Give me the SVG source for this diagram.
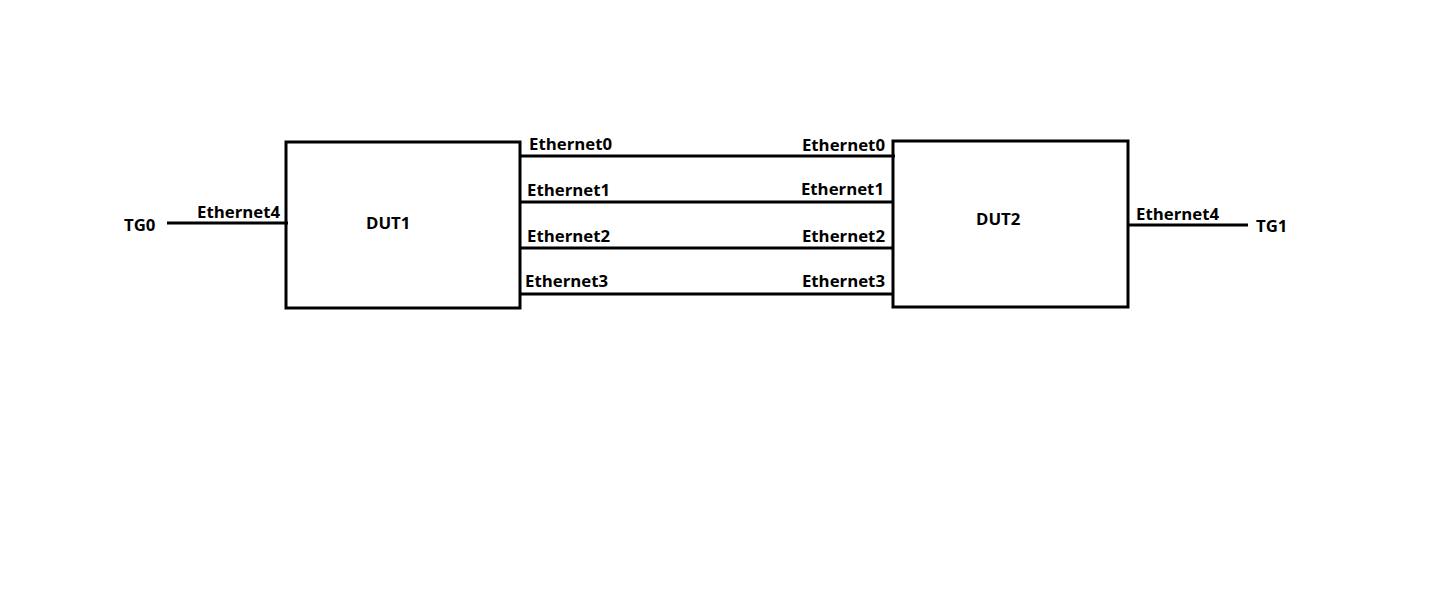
<svg xmlns="http://www.w3.org/2000/svg" width="1429" height="592" viewBox="0 0 1429 592">
<style>
.box{fill:none;stroke:#000;stroke-width:3}
.ln{stroke:#000;stroke-width:3;fill:none}
text{font-family:"Open Sans","Noto Sans",sans-serif;font-weight:bold;font-size:16.8px;fill:#000}
.e{text-anchor:end}
</style>
<rect width="1429" height="592" fill="#fff"/>
<g id="connectors">
<line class="ln" x1="520" y1="156" x2="895" y2="156"/>
<line class="ln" x1="520" y1="202" x2="893" y2="202"/>
<line class="ln" x1="520" y1="248" x2="893" y2="248"/>
<line class="ln" x1="520" y1="294" x2="893" y2="294"/>
<line class="ln" x1="167" y1="223" x2="288" y2="223"/>
<line class="ln" x1="1128" y1="225" x2="1248" y2="225"/>
<text x="529" y="150">Ethernet0</text>
<text x="527" y="196">Ethernet1</text>
<text x="527" y="242">Ethernet2</text>
<text x="525" y="287">Ethernet3</text>
<text class="e" x="885" y="151">Ethernet0</text>
<text class="e" x="884" y="195">Ethernet1</text>
<text class="e" x="885" y="242">Ethernet2</text>
<text class="e" x="885" y="287">Ethernet3</text>
<text x="197" y="218">Ethernet4</text>
<text x="1136" y="220">Ethernet4</text>
</g>
<g id="TG0"><text x="124" y="231">TG0</text></g>
<g id="TG1"><text x="1256" y="232">TG1</text></g>
<g id="DUT1"><rect class="box" x="286" y="142" width="234" height="166"/><text x="366" y="229">DUT1</text></g>
<g id="DUT2"><rect class="box" x="893" y="141" width="235" height="166"/><text x="976" y="225">DUT2</text></g>
</svg>
